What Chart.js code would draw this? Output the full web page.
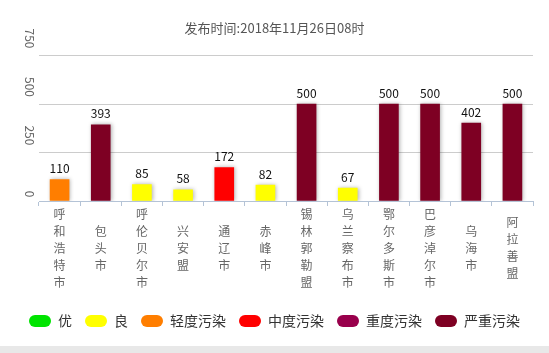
<!DOCTYPE html>
<html>
<head>
<meta charset="utf-8">
<script src="https://cdn.jsdelivr.net/npm/chart.js@4/dist/chart.umd.min.js"></script>
<style>
  html, body { margin: 0; padding: 0; background: #fff; }
  #wrap { width: 549px; height: 346px; position: relative; }
  #band { width: 549px; height: 7px; background: #e8e8e8; }
</style>
</head>
<body>
<div id="wrap"><canvas id="aqiChart"></canvas></div>
<div id="band"></div>
<script>
const FONT = "'Noto Sans CJK SC', 'Liberation Sans', sans-serif";

const cities = ['呼和浩特市', '包头市', '呼伦贝尔市', '兴安盟', '通辽市', '赤峰市',
  '锡林郭勒盟', '乌兰察布市', '鄂尔多斯市', '巴彦淖尔市', '乌海市', '阿拉善盟'];
const aqi = [110, 393, 85, 58, 172, 82, 500, 67, 500, 500, 402, 500];

const levelNames = ['优', '良', '轻度污染', '中度污染', '重度污染', '严重污染'];
const levelColors = ['#00e400', '#ffff00', '#ff7e00', '#ff0000', '#99004c', '#7e0023'];
const levelLimits = [50, 100, 150, 200, 300, Infinity];

const yTicks = [0, 250, 500, 750];
const titleText = '发布时间:2018年11月26日08时';

function colorFor(v) {
  const i = levelLimits.findIndex(lim => v <= lim);
  return levelColors[i];
}

// soft shadow behind the bars, labels drawn on top afterwards
const barDecor = {
  id: 'barDecor',
  beforeDatasetsDraw(chart) {
    const ctx = chart.ctx;
    ctx.save();
    ctx.shadowColor = 'rgba(0,0,0,0.3)';
    ctx.shadowBlur = 4;
    ctx.shadowOffsetX = 1;
    ctx.shadowOffsetY = 0;
  },
  afterDatasetsDraw(chart) {
    const ctx = chart.ctx;
    ctx.restore();
    const meta = chart.getDatasetMeta(0);
    ctx.save();
    ctx.font = '12px ' + FONT;
    ctx.fillStyle = '#111';
    ctx.textAlign = 'center';
    ctx.textBaseline = 'bottom';
    meta.data.forEach((bar, i) => {
      ctx.fillText(String(aqi[i]), bar.x, bar.y - 5);
    });
    ctx.restore();
  }
};

// y tick labels, rotated like the original
const yLabels = {
  id: 'yLabels',
  afterDraw(chart) {
    const ctx = chart.ctx;
    const scale = chart.scales.y;
    ctx.save();
    ctx.font = '12px ' + FONT;
    ctx.fillStyle = '#666';
    ctx.textAlign = 'right';
    ctx.textBaseline = 'middle';
    scale.ticks.forEach(t => {
      const label = String(t.value);
      const y = scale.getPixelForValue(t.value) - (2 + label.length * 1.7);
      ctx.save();
      ctx.translate(29.5, y);
      ctx.rotate(Math.PI / 2);
      ctx.fillText(label, 0, 0);
      ctx.restore();
    });
    ctx.restore();
  }
};

new Chart(document.getElementById('aqiChart'), {
  type: 'bar',
  data: {
    labels: cities.map(c => c.split('')),
    datasets: [{
      data: aqi,
      backgroundColor: aqi.map(colorFor),
      borderWidth: 0,
      barThickness: 19
    }]
  },
  options: {
    responsive: true,
    maintainAspectRatio: false,
    animation: false,
    events: [],
    layout: { padding: { left: 0, right: 0, top: 0, bottom: 8 } },
    scales: {
      x: {
        grid: {
          drawOnChartArea: false,
          drawTicks: true,
          tickLength: 5,
          color: '#b4c3d6',
          offset: true
        },
        border: { display: true, color: '#b4c3d6' },
        ticks: {
          autoSkip: false,
          maxRotation: 0,
          minRotation: 0,
          padding: 8,
          crossAlign: 'center',
          color: '#666',
          font: { size: 12, family: FONT, lineHeight: 1.417 }
        },
        afterFit(axis) { axis.height = 100; }
      },
      y: {
        min: 0,
        max: 750,
        afterBuildTicks(axis) { axis.ticks = yTicks.map(v => ({ value: v })); },
        grid: { color: '#cccccc', drawTicks: false },
        border: { display: false },
        ticks: { display: false },
        afterFit(axis) { axis.width = 39; }
      },
      yRight: {
        type: 'linear',
        position: 'right',
        grid: { display: false },
        border: { display: false },
        ticks: { display: false },
        afterFit(axis) { axis.width = 16; }
      }
    },
    plugins: {
      tooltip: { enabled: false },
      title: {
        display: true,
        text: titleText,
        color: '#555',
        font: { size: 13, family: FONT, weight: 'normal', lineHeight: 1.2 },
        padding: { top: 20, bottom: 20 }
      },
      legend: {
        position: 'bottom',
        labels: {
          boxWidth: 22,
          boxHeight: 12,
          padding: 13,
          useBorderRadius: true,
          color: '#333',
          font: { size: 14, family: FONT },
          generateLabels() {
            return levelNames.map((name, i) => ({
              text: name,
              fillStyle: levelColors[i],
              strokeStyle: levelColors[i],
              lineWidth: 0,
              borderRadius: 6,
              fontColor: '#333',
              hidden: false,
              datasetIndex: 0
            }));
          }
        }
      }
    }
  },
  plugins: [barDecor, yLabels]
});
</script>
</body>
</html>
